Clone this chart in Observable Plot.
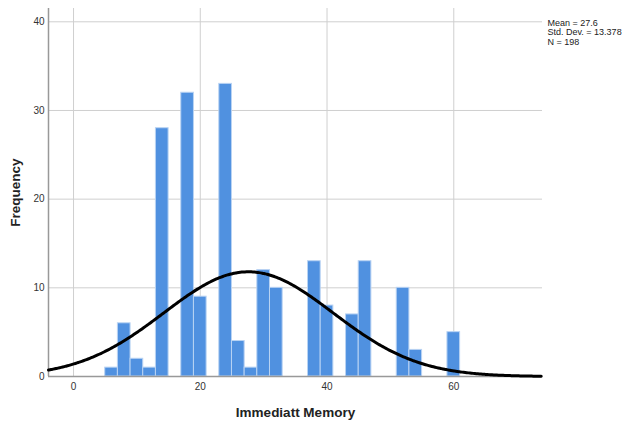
<!DOCTYPE html>
<html>
<head>
<meta charset="utf-8">
<script src="https://cdn.jsdelivr.net/npm/d3@7"></script>
<script src="https://cdn.jsdelivr.net/npm/@observablehq/plot@0.6"></script>
<style>
  html, body { margin: 0; padding: 0; background: #fff; }
  #chart { position: relative; width: 624px; height: 423px; overflow: hidden; }
  svg { font-family: "Liberation Sans", Arial, sans-serif; }
  [aria-label="x-axis label"] text, [aria-label="y-axis label"] text { font-weight: bold; font-size: 13.5px; fill: #222; }
  [aria-label="x-axis tick label"] text, [aria-label="y-axis tick label"] text { fill: #333; }
</style>
</head>
<body>
<div id="chart"></div>
<script>
// Histogram bins (lower edge of each 2-unit bin) and counts
const binStart = [5, 7, 9, 11, 13, 17, 19, 23, 25, 27, 29, 31, 37, 39, 43, 45, 51, 53, 59];
const counts   = [1, 6, 2, 1, 28, 32, 9, 33, 4, 1, 12, 10, 13, 8, 7, 13, 10, 3, 5];
const binWidth = 2;
// Summary statistics shown on the chart
const statMean = 27.6;
const statSD = 13.378;
const statN = 198;
// Tick labels
const xTicks = [0, 20, 40, 60];
const yTicks = [0, 10, 20, 30, 40];
const xDomain = [-3.95, 74];
const yDomain = [0, 41.5];

const bars = binStart.map((s, i) => ({x1: s, x2: s + binWidth, count: counts[i]}));

// Fitted normal curve from the displayed mean / SD / N
const curve = d3.range(xDomain[0], xDomain[1] + 0.001, 0.25).map(x => ({
  x,
  y: statN * binWidth * Math.exp(-((x - statMean) ** 2) / (2 * statSD * statSD)) / (statSD * Math.sqrt(2 * Math.PI))
}));

const statsText = `Mean = ${statMean}\nStd. Dev. = ${statSD}\nN = ${statN}`;

const chart = Plot.plot({
  width: 624,
  height: 423,
  marginLeft: 48,
  marginRight: 82,
  marginTop: 8,
  marginBottom: 47,
  style: {fontFamily: "'Liberation Sans', Arial, sans-serif", fontSize: "10px", background: "#fff"},
  x: {domain: xDomain},
  y: {domain: yDomain},
  marks: [
    Plot.gridX(xTicks, {stroke: "#cfcfcf", strokeOpacity: 1, strokeWidth: 1}),
    Plot.gridY(yTicks.filter(d => d > 0), {stroke: "#cfcfcf", strokeOpacity: 1, strokeWidth: 1}),
    Plot.rectY(bars, {x1: "x1", x2: "x2", y: "count", fill: "#5091e0", stroke: "#b9d3f3", strokeWidth: 1}),
    Plot.ruleX([xDomain[0]], {stroke: "#999", strokeWidth: 1.5}),
    Plot.ruleY([0], {stroke: "#999", strokeWidth: 1.5}),
    Plot.line(curve, {x: "x", y: "y", stroke: "#000", strokeWidth: 3, curve: "basis"}),
    Plot.axisX(xTicks, {tickSize: 0, tickPadding: 6, fontSize: 10, label: "Immediatt Memory", labelArrow: "none", labelAnchor: "center", labelOffset: 40}),
    Plot.axisY(yTicks, {tickSize: 0, tickPadding: 4, fontSize: 10, label: "Frequency", labelArrow: "none", labelAnchor: "center", labelOffset: 38}),
    Plot.text([statsText], {frameAnchor: "top-right", dx: 5, dy: 10, textAnchor: "start", lineAnchor: "top", lineHeight: 1.1, fontSize: 9, fill: "#222"})
  ]
});
document.getElementById("chart").appendChild(chart);
</script>
</body>
</html>
